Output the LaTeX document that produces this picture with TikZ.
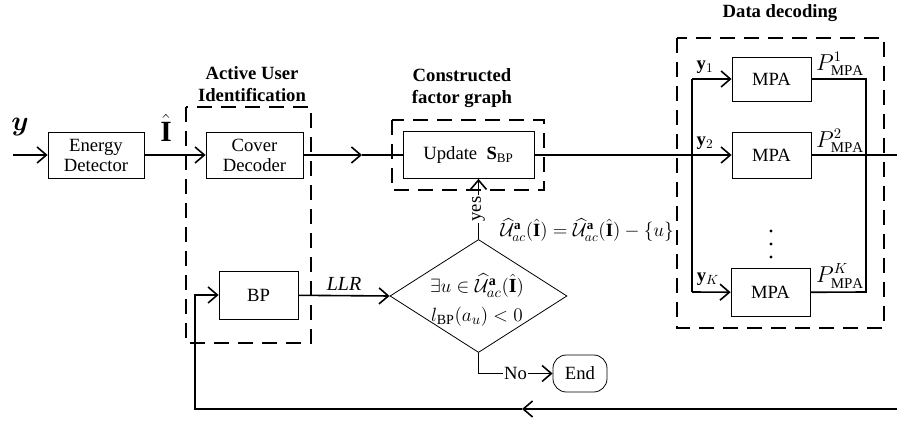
\documentclass[tikz,border=0pt]{standalone}
\usepackage{amsmath,bm}
\usepackage{fontspec}
\setmainfont{Liberation Serif}
\usepackage{tikz}
\usetikzlibrary{arrows.meta,calc,shapes.geometric}

\tikzset{
  every node/.style={font=\fontsize{14}{15}\selectfont},
  blk/.style={draw, line width=0.6pt, inner sep=0pt, align=center, minimum width=59.25pt, minimum height=34.5pt},
  grp/.style={line width=1pt, dash pattern=on 11pt off 7pt},
  flow/.style={line width=1.2pt},
  ttl/.style={font=\bfseries\fontsize{14}{17}\selectfont, align=center},
  >={Straight Barb[length=7pt,width=12pt]}
}

\begin{document}
\begin{tikzpicture}[x=0.75pt,y=0.75pt,yscale=-1,xscale=1]
\useasboundingbox (0,0) rectangle (897,423);

%Dashed groups
\draw[grp] (186,107) rectangle (311,343);
\draw[grp] (392,120) rectangle (544,190);
\draw[grp] (677,38) rectangle (884,328);

% Titles
\node[ttl] (tAUI) at (252,84) {Active User\\Identification};
\node[ttl] (tCFG) at (462,88) {Constructed\\factor graph};
\node[ttl] (tDD) at (780,13) {Data decoding};

% Blocks
\node[blk, minimum width=72pt] (energy) at (96,155) {Energy\\Detector};
\node[blk, minimum width=72.75pt] (cover) at (254.5,155) {Cover\\Decoder};
\node[blk, minimum width=98.25pt, minimum height=35.25pt] (update) at (468.5,155) {Update \ $\mathbf{S}_{\mathrm{BP}}$};
\node[blk, minimum height=36pt] (bp) at (258.5,295) {BP};
\node[blk, minimum height=33pt] (mpa1) at (771.5,79) {MPA};
\node[blk] (mpa2) at (771.5,155) {MPA};
\node[blk, minimum height=36pt] (mpaK) at (770.5,292.5) {MPA};
\node[blk, rounded corners=10pt, minimum width=40.5pt, minimum height=27.75pt] (end) at (580,373.5) {End};
\node[draw, diamond, line width=0.6pt, inner sep=0pt, minimum width=132.75pt, minimum height=84.75pt] (dec) at (478.5,296) {};
\node[align=center, font=\fontsize{15}{22}\selectfont, inner sep=0pt] (cond) at (477,300)
  {$\exists u\in\widehat{\mathcal{U}}^{\mathbf{a}}_{ac}(\hat{\mathbf{I}})$\\$l_{\mathrm{BP}}(a_u)<0$};

% Coordinates
\coordinate (in) at (13,155);
\coordinate (cu) at (362,155);
\coordinate (bus1) at (692,79);
\coordinate (bus2) at (692,155);
\coordinate (busK) at (692,292);
\coordinate (out1) at (866,79);
\coordinate (outK) at (866,292);
\coordinate (rend) at (897,155);
\coordinate (fbR) at (897,409);
\coordinate (fbM) at (522,409);
\coordinate (fbL) at (195,409);

% Connectors
\draw[flow,->] (in) -- (energy);
\draw[flow,->] (energy) -- (cover);
\draw[flow,->] (cover) -- (cu);
\draw[flow] (cu) -- (update);
\draw[flow] (update) -- (bus2);
\draw[flow] (bus1) -- (busK);
\draw[flow,->] (bus1) -- (mpa1);
\draw[flow,->] (bus2) -- (mpa2);
\draw[flow,->] (busK) -- (mpaK);
\draw[flow] (mpa1) -- (out1) -- (outK) -- (mpaK);
\draw[flow] (mpa2) -- (rend);
\draw[flow,->] (fbR) -- (fbM);
\draw[flow,->] (fbM) -- (fbL) |- (bp.west);
\draw[flow,->] (bp) -- (dec.west) node[midway, above, font=\fontsize{15}{15}\itshape] (llr) {LLR};
\draw[flow,->] (dec.north) -- (dec.north |- update.south) node[midway, fill=white, rotate=90, inner sep=1pt] (yes) {yes};
\draw[flow,->] (dec.south) |- (end) node[pos=0.75, fill=white, inner sep=1pt] (no) {No};

% Dots
\foreach \yy in {231,244,257} \fill (771,\yy) circle (1.6);

% Text Node
\node (ylab) at (20,127) {\fontsize{22}{22}\selectfont $\bm{y}$};
\node (ihat) at (166,128) {\fontsize{22}{22}\selectfont $\hat{\mathbf{I}}$};
\node (y1) at (705,67) {$\mathbf{y}_1$};
\node (y2) at (705,143) {$\mathbf{y}_2$};
\node (yK) at (708,279) {$\mathbf{y}_K$};
\node (p1) at (840,64) {\fontsize{16}{16}\selectfont $P_{\mathrm{MPA}}^{1}$};
\node (p2) at (840,141) {\fontsize{16}{16}\selectfont $P_{\mathrm{MPA}}^{2}$};
\node (pK) at (840,276) {\fontsize{16}{16}\selectfont $P_{\mathrm{MPA}}^{K}$};
\node[inner sep=0pt] (upd) at (587,230) {$\widehat{\mathcal{U}}^{\mathbf{a}}_{ac}(\hat{\mathbf{I}})=\widehat{\mathcal{U}}^{\mathbf{a}}_{ac}(\hat{\mathbf{I}})-\{u\}$};

\end{tikzpicture}
\end{document}
